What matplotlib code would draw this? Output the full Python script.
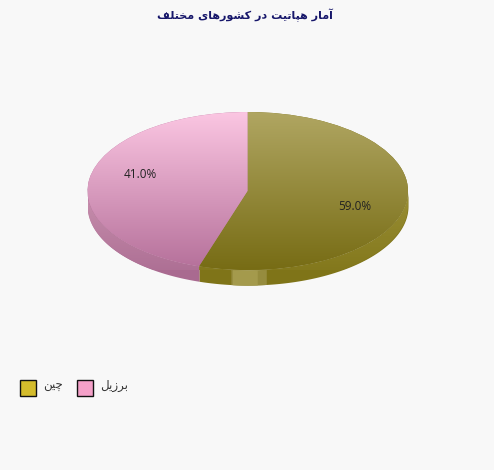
import numpy as np
import matplotlib
matplotlib.use('Agg')
import matplotlib.pyplot as plt
from matplotlib.colors import LinearSegmentedColormap
from matplotlib.patches import Rectangle

title_text = 'آمار هپاتیت در کشورهای مختلف'
countries = ['برزیل', 'چین']
# printed labels, and the slice sizes as they are actually drawn in the picture
percent_labels = ['41.0%', '59.0%']
drawn_shares = [45.1, 54.9]
legend_colors = ['#f4a0c8', '#d4bc2c']
top_colors = [('#fbc6e2', '#b5709a'), ('#b0a662', '#776c14')]
rim_colors = [('#c890ae', '#a96a90'), ('#9a8f35', '#7f7418')]

# isolated, final, initial, medial
forms = {
    'آ': 'ﺁﺂ', 'ا': 'ﺍﺎ', 'د': 'ﺩﺪ', 'ر': 'ﺭﺮ', 'ز': 'ﺯﺰ', 'و': 'ﻭﻮ',
    'م': 'ﻡﻢﻣﻤ', 'ه': 'ﻩﻪﻫﻬ', 'پ': 'ﭖﭗﭘﭙ', 'ت': 'ﺕﺖﺗﺘ', 'ی': 'ﯼﯽﯾﯿ',
    'ک': 'ﮎﮏﮐﮑ', 'ش': 'ﺵﺶﺷﺸ', 'خ': 'ﺥﺦﺧﺨ', 'ل': 'ﻝﻞﻟﻠ', 'ف': 'ﻑﻒﻓﻔ',
    'چ': 'ﭺﭻﭼﭽ', 'ن': 'ﻥﻦﻧﻨ', 'ب': 'ﺏﺐﺑﺒ',
}

# matplotlib has no arabic shaping, so pick the joined forms by hand
def shape(text):
    out = []
    for i, c in enumerate(text):
        if c not in forms:
            out.append(c)
            continue
        prev = text[i - 1] if i > 0 else ' '
        nxt = text[i + 1] if i < len(text) - 1 else ' '
        joins_prev = prev in forms and len(forms[prev]) == 4
        joins_next = nxt in forms and len(forms[c]) == 4
        if joins_prev and joins_next:
            out.append(forms[c][3])
        elif joins_prev:
            out.append(forms[c][1])
        elif joins_next:
            out.append(forms[c][2])
        else:
            out.append(forms[c][0])
    return ''.join(reversed(out))

W, H = 494, 470
fig = plt.figure(figsize=(W / 100, H / 100), dpi=100, facecolor='#f8f8f8')

# page layer in pixel coordinates, on top of the pie
page = fig.add_axes([0, 0, 1, 1], zorder=5)
page.set_xlim(0, W)
page.set_ylim(H, 0)
page.axis('off')

# pie layer, squashed to the top ellipse
left, right, top, bottom = 87.5, 408, 112, 270
ax = fig.add_axes([left / W, 1 - bottom / H, (right - left) / W, (bottom - top) / H], zorder=1)
wedges, _ = ax.pie(drawn_shares, startangle=90, counterclock=True, radius=1, center=(0, 0))
ax.set_aspect('auto')
ax.axis('off')

depth = 15 / ((bottom - top) / 2)
gradient = np.linspace(0, 1, 256).reshape(-1, 1)
for w, pair in zip(wedges, top_colors):
    cmap = LinearSegmentedColormap.from_list('top', pair)
    w.set_facecolor(pair[1])
    w.set_zorder(3)
    img = ax.imshow(gradient, cmap=cmap, extent=(-1, 1, -1, 1), aspect='auto', origin='upper', zorder=4)
    img.set_clip_path(w)

# side wall of the disc
split = 90 + drawn_shares[0] * 3.6
spans = [(180, split), (split, 360)]
for (a, b), pair in zip(spans, rim_colors):
    t = np.radians(np.linspace(a, b, 120))
    poly = ax.fill_between(np.cos(t), np.sin(t), np.sin(t) - depth, color=pair[1], lw=0, zorder=1, clip_on=False)
    cmap = LinearSegmentedColormap.from_list('rim', pair)
    img = ax.imshow(gradient, cmap=cmap, extent=(-1, 1, -1 - depth, 0), aspect='auto', origin='upper', zorder=1, clip_on=True)
    img.set_clip_path(poly.get_paths()[0], poly.get_transform())

# highlight on the wall near the front
t = np.radians(np.linspace(split, 360, 400))
x = np.cos(t)
for x0, x1, col in [(-0.107, 0.118, '#968c3e'), (-0.098, 0.062, '#a49a4c')]:
    mask = (x >= x0) & (x <= x1)
    ax.fill_between(x[mask], np.sin(t)[mask], np.sin(t)[mask] - depth, color=col, lw=0, zorder=2, clip_on=False)

ax.set_xlim(-1, 1)
ax.set_ylim(-1, 1)

# texts
page.text(245, 15, shape(title_text), family='DejaVu Sans', fontweight='bold', fontsize=8,
          color='#16166a', ha='center', va='center')
page.text(140, 174, percent_labels[0], family='Open Sans', fontsize=8.5, color='#222222', ha='center', va='center')
page.text(355, 206, percent_labels[1], family='Open Sans', fontsize=8.5, color='#222222', ha='center', va='center')

# legend, drawn right to left
swatch_x = [77, 20]
text_x = [114.5, 52.5]
for name, col, sx, tx in zip(countries, legend_colors, swatch_x, text_x):
    page.add_patch(Rectangle((sx, 380), 16, 16, facecolor=col, edgecolor='#111111', lw=1))
    page.text(tx, 386, shape(name), family='DejaVu Sans', fontsize=8.5, color='#333333', ha='center', va='center')

fig.savefig('out.png', dpi=100, facecolor=fig.get_facecolor())
